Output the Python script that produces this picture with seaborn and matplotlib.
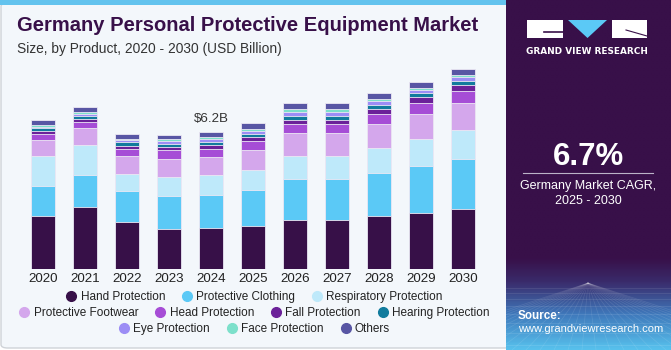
import matplotlib.pyplot as plt
import numpy as np
import pandas as pd
import seaborn as sns
from matplotlib.colors import LinearSegmentedColormap
from matplotlib.lines import Line2D
from matplotlib.patches import Rectangle, FancyBboxPatch, Polygon

# -----------------------------------------------------------------------------
#         Data (USD Billion)
# -----------------------------------------------------------------------------
years = ['2020', '2021', '2022', '2023', '2024', '2025',
         '2026', '2027', '2028', '2029', '2030']

hand = [2.41, 2.79, 2.11, 1.81, 1.84, 1.96, 2.23, 2.23, 2.38, 2.53, 2.70]
clothing = [1.36, 1.45, 1.43, 1.48, 1.52, 1.60, 1.84, 1.84, 1.96, 2.11, 2.28]
respiratory = [1.36, 1.37, 0.78, 0.87, 0.87, 0.94, 1.06, 1.06, 1.12, 1.22, 1.30]
footwear = [0.69, 0.75, 0.80, 0.83, 0.84, 0.90, 1.01, 1.01, 1.10, 1.16, 1.22]
head = [0.30, 0.30, 0.33, 0.38, 0.38, 0.41, 0.44, 0.44, 0.47, 0.51, 0.57]
fall = [0.11, 0.11, 0.11, 0.14, 0.14, 0.14, 0.18, 0.18, 0.20, 0.23, 0.24]
hearing = [0.14, 0.17, 0.20, 0.14, 0.17, 0.17, 0.18, 0.18, 0.18, 0.18, 0.18]
eye = [0.06, 0.09, 0.08, 0.12, 0.12, 0.14, 0.17, 0.17, 0.17, 0.17, 0.20]
face = [0.09, 0.08, 0.06, 0.09, 0.09, 0.09, 0.11, 0.11, 0.12, 0.09, 0.09]
others = [0.20, 0.21, 0.21, 0.21, 0.23, 0.24, 0.27, 0.27, 0.26, 0.27, 0.27]

segments = ['Hand Protection', 'Protective Clothing', 'Respiratory Protection',
            'Protective Footwear', 'Head Protection', 'Fall Protection',
            'Hearing Protection', 'Eye Protection', 'Face Protection', 'Others']
colors = ['#371048', '#5BC9F6', '#BEE9FA', '#D4A7EC', '#A64DD6',
          '#6B2199', '#117B9D', '#9C8DF5', '#7DE0CB', '#5856A4']

cagr_text = '6.7%'

df = pd.DataFrame(dict(zip(segments, [hand, clothing, respiratory, footwear,
                                      head, fall, hearing, eye, face, others])),
                  index=years)
cum = df.cumsum(axis=1)

# -----------------------------------------------------------------------------
#         Figure
# -----------------------------------------------------------------------------
W, H = 671, 350
bg = '#F3F7FB'
dark = '#381049'
plt.rcParams['font.family'] = ['Liberation Sans', 'DejaVu Sans']

fig = plt.figure(figsize=(W / 100, H / 100), dpi=100, facecolor='white')

# chart panel background with a soft border
fig.patches.append(FancyBboxPatch((1 / W, 2 / H), 510 / W, 345 / H,
                                  boxstyle='round,pad=0,rounding_size=0.01',
                                  transform=fig.transFigure, facecolor=bg,
                                  edgecolor='#cfd3d8', lw=1.0, zorder=-2))
# top blue strip
fig.patches.append(Rectangle((0, (H - 5) / H), 506 / W, 5 / H,
                             transform=fig.transFigure, facecolor='#63C3EE',
                             edgecolor='none', zorder=-1))

ax = fig.add_axes([22 / W, 81 / H, 462 / W, 210 / H])
ax.set_facecolor('none')

# stacked bars: draw cumulative totals from the top down
for name, c in reversed(list(zip(segments, colors))):
    sns.barplot(x=cum.index, y=cum[name].values, color=c, saturation=1,
                width=0.57, edgecolor='#ece8f4', linewidth=0.6, ax=ax)

ax.set_xlim(-0.5, len(years) - 0.5)
ax.set_ylim(0, 9.5)
ax.set_yticks([])
ax.set_xlabel('')
ax.set_ylabel('')
ax.tick_params(axis='x', length=0, pad=3, labelsize=9.6, labelcolor='#222222')
for s in ax.spines.values():
    s.set_visible(False)

tot24 = cum.loc['2024'].iloc[-1]
ax.text(years.index('2024'), tot24 + 0.3, f"${tot24:.1f}B",
        ha='center', va='bottom', fontsize=9.6, color='#333333')

# titles
fig.text(17 / W, 1 - 31 / H, 'Germany Personal Protective Equipment Market',
         fontsize=14.5, fontweight='bold', color=dark, ha='left', va='baseline')
fig.text(17 / W, 1 - 53 / H, 'Size, by Product, 2020 - 2030 (USD Billion)',
         fontsize=9.9, color='#333333', ha='left', va='baseline')

# legend in three centred rows
handles = [Line2D([], [], marker='o', ls='none', markersize=7,
                  markerfacecolor=c, markeredgecolor=c) for c in colors]
rows = [(0, 3, 297), (3, 7, 313), (7, 10, 329)]
for a, b, y in rows:
    fig.legend(handles[a:b], segments[a:b], loc='center',
               bbox_to_anchor=(254 / W, 1 - y / H), ncol=b - a, frameon=False,
               fontsize=8.5, handletextpad=0.3, columnspacing=1.35,
               handlelength=1.0, borderaxespad=0, borderpad=0,
               labelcolor='#222222')

# -----------------------------------------------------------------------------
#         Right info panel
# -----------------------------------------------------------------------------
pax = fig.add_axes([506 / W, 0, 165 / W, 1])
cmap = LinearSegmentedColormap.from_list(
    'panel', [(0, dark), (0.74, dark), (0.81, '#3a2c6c'),
              (0.9, '#3f78bb'), (1, '#57c0ec')])
pax.imshow(np.linspace(0, 1, 200)[:, None], aspect='auto', cmap=cmap,
           extent=(0, 165, H, 0), interpolation='bilinear', zorder=0)
pax.set_xlim(0, 165)
pax.set_ylim(H, 0)
pax.axis('off')

# faint perspective grid near the bottom
for yy in [288, 293, 299, 306, 314, 323, 333, 345]:
    pax.plot([0, 165], [yy, yy], color='white', alpha=0.13, lw=0.5)
for xx in np.arange(-120, 290, 14):
    pax.plot([82, xx], [283, 350], color='white', alpha=0.11, lw=0.5)

# logo
pax.add_patch(Rectangle((21, 20), 36, 18, facecolor='white', zorder=2))
pax.add_patch(Polygon([(62, 20), (101, 20), (81.5, 38)], closed=True,
                      facecolor='#5BC9F6', zorder=2))
pax.add_patch(Rectangle((106, 20), 35, 18, facecolor='white', zorder=2))
pax.plot([38, 57], [32, 32], color=dark, lw=1.2, zorder=3)
pax.plot([120, 141], [30, 36], color=dark, lw=0.8, zorder=3)
pax.text(81, 51, 'GRAND VIEW RESEARCH', color='white', fontsize=6.4,
         fontweight='bold', family='DejaVu Sans', ha='center', va='center')

pax.text(82, 157, cagr_text, color='white', fontsize=22.5, fontweight='bold',
         ha='center', va='center')
pax.plot([17, 147], [173, 173], color='#bbb3c8', lw=0.8)
pax.text(82, 186, 'Germany Market CAGR,', color='white', fontsize=9,
         ha='center', va='center')
pax.text(82, 201, '2025 - 2030', color='white', fontsize=9,
         ha='center', va='center')

pax.text(12, 316, 'Source:', color='white', fontsize=8.4, fontweight='bold',
         ha='left', va='center')
pax.text(12, 329, 'www.grandviewresearch.com', color='white', fontsize=8.0,
         ha='left', va='center')

fig.savefig('out.png', dpi=100, facecolor=fig.get_facecolor())
